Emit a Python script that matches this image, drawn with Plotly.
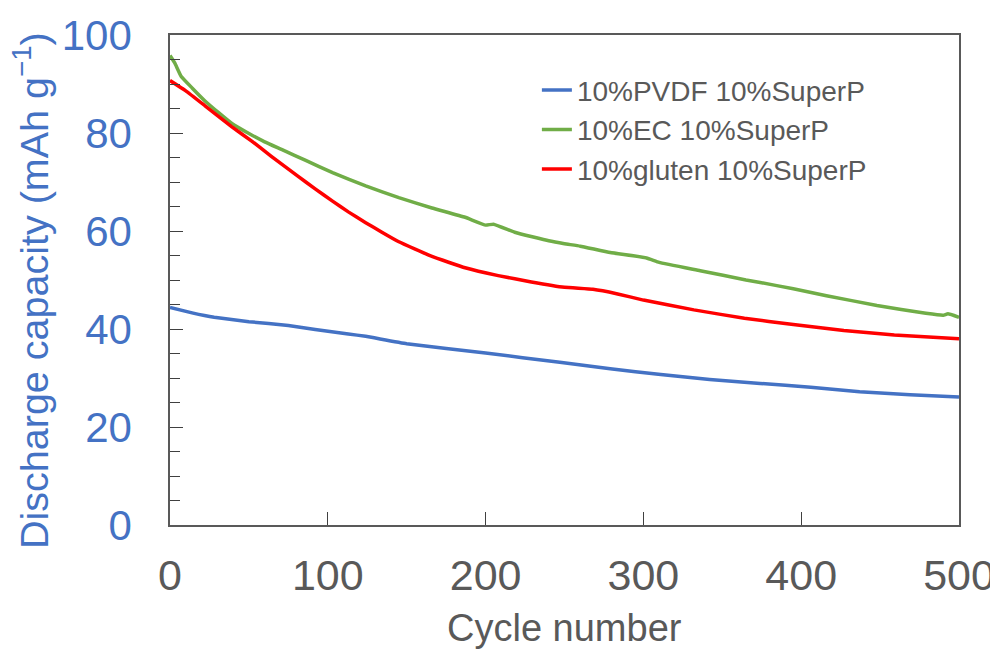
import plotly.graph_objects as go

# Data
pvdf_cycles = [0, 14, 28, 50, 75, 92, 113, 124, 150, 200, 247, 279, 311, 342, 374, 406, 437, 469, 500]
pvdf_capacity = [44.4, 43.3, 42.4, 41.5, 40.7, 39.9, 39.0, 38.5, 37.0, 35.1, 33.2, 31.9, 30.7, 29.7, 28.9, 28.1, 27.2, 26.6, 26.1]

ec_cycles = [0, 3, 7, 14, 22, 31, 39, 50, 60, 71, 86, 103, 124, 145, 166, 187, 200, 205, 219, 240, 250, 260,
             279, 302, 310, 336, 365, 374, 395, 416, 448, 479, 490, 493, 500]
ec_capacity = [95.8, 94.3, 91.6, 89.2, 86.6, 84.1, 82.0, 79.9, 78.2, 76.6, 74.4, 71.9, 69.2, 66.8, 64.7, 62.8, 61.2,
               61.4, 59.7, 58.0, 57.4, 56.9, 55.6, 54.5, 53.6, 51.9, 50.0, 49.5, 48.2, 46.8, 44.8, 43.2, 42.8, 43.1, 42.4]

gluten_cycles = [0, 10, 22, 39, 52, 64, 81, 92, 103, 113, 124, 134, 145, 166, 187, 208, 229, 250, 268, 283, 300,
                 332, 364, 395, 427, 459, 500]
gluten_capacity = [90.7, 88.6, 85.6, 81.3, 78.3, 75.3, 71.2, 68.6, 66.1, 63.9, 61.7, 59.8, 57.8, 54.8, 52.5, 50.9,
                   49.6, 48.5, 48.1, 47.2, 45.9, 43.9, 42.2, 40.9, 39.7, 38.8, 38.0]

names = ["10%PVDF 10%SuperP", "10%EC 10%SuperP", "10%gluten 10%SuperP"]
colors = ["#4472C4", "#70AD47", "#FF0000"]

FONT = "Arial, Liberation Sans, sans-serif"
GREY = "#595959"
BLUE = "#4472C4"

fig = go.Figure()
for xs, ys, nm, c in [(pvdf_cycles, pvdf_capacity, names[0], colors[0]),
                      (ec_cycles, ec_capacity, names[1], colors[1]),
                      (gluten_cycles, gluten_capacity, names[2], colors[2])]:
    fig.add_trace(go.Scatter(x=xs, y=ys, mode="lines", name=nm,
                             line=dict(color=c, width=3.5, shape="spline", smoothing=0.3)))

# the page body has an 8px margin, so the figure is drawn from (8, 8)
fig.update_layout(
    width=990, height=641,
    margin=dict(l=162, r=39, t=27, b=124),
    paper_bgcolor="white", plot_bgcolor="white",
    font=dict(family=FONT, color=GREY),
    showlegend=True,
    legend=dict(x=0.465, y=0.938, xanchor="left", yanchor="top",
                font=dict(size=28, color=GREY, family=FONT),
                bgcolor="rgba(0,0,0,0)", itemwidth=30, tracegroupgap=0),
    xaxis=dict(
        range=[0, 500], dtick=100, tick0=0, automargin=False,
        showgrid=False, zeroline=False,
        showline=True, linecolor=GREY, linewidth=1.5, mirror=True,
        ticks="inside", ticklen=13, tickwidth=1.3, tickcolor="#404040",
        tickfont=dict(size=43, color=GREY, family=FONT),
        ticklabelstandoff=12,
    ),
    yaxis=dict(
        range=[0, 100], dtick=20, tick0=0, automargin=False,
        showgrid=False, zeroline=False,
        showline=True, linecolor=GREY, linewidth=1.5, mirror=True,
        ticks="inside", ticklen=13, tickwidth=1.3, tickcolor="#404040",
        minor=dict(dtick=5, ticks="inside", ticklen=10, tickwidth=1.3, tickcolor="#404040", showgrid=False),
        tickfont=dict(size=42, color=BLUE, family=FONT),
        ticklabelstandoff=28,
    ),
    annotations=[
        dict(text="Cycle number", xref="paper", yref="paper", x=0.5, y=(525 - 628) / 490,
             xanchor="center", yanchor="middle", showarrow=False,
             font=dict(size=38, color=GREY, family=FONT)),
        dict(text="Discharge capacity (mAh g<sup>−1</sup>)", xref="paper", yref="paper",
             x=(31 - 170) / 789, y=(525 - 291) / 490, textangle=-90,
             xanchor="center", yanchor="middle", showarrow=False,
             font=dict(size=39.5, color=BLUE, family=FONT)),
    ],
)

fig.write_html("out.html")
